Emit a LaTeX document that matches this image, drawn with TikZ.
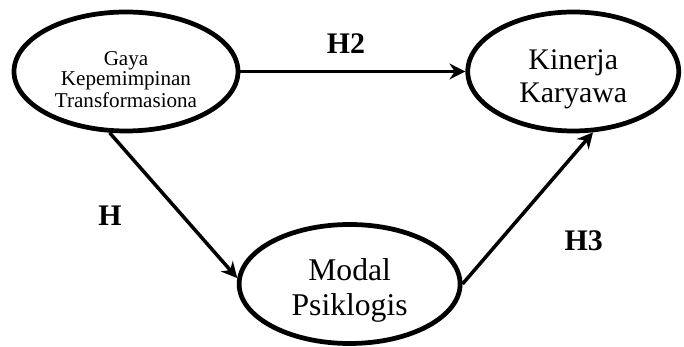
\documentclass[tikz,border=0pt]{standalone}
\usepackage{fontspec}
\setmainfont{Liberation Serif}
\usetikzlibrary{arrows.meta,positioning,shapes.geometric,calc}

\begin{document}
\begin{tikzpicture}[
    var/.style={
        ellipse,
        draw=black,
        line width=2.7pt,
        minimum width=#1,
        minimum height=2.38cm,
        inner sep=0pt,
        align=center,
        font=\fontsize{17}{19}\selectfont
    },
    arrow/.style={
        -{Stealth[length=9pt,width=9pt]},
        line width=2pt
    },
    hyp/.style={
        font=\bfseries\fontsize{17}{19}\selectfont,
        inner sep=0pt
    }
]

\useasboundingbox (-2.52,1.43) rectangle (11.16,-5.51);

% Independent variable
\node[var=4.48cm, font=\fontsize{12}{10}\selectfont] (gaya) at (0,0) {
    \rule{0pt}{17pt}Gaya\\Kepemimpinan\\Transformasiona
};

% Dependent variable
\node[var=4.22cm, right=4.5cm of gaya] (kinerja) {
    \rule{0pt}{20pt}Kinerja\\Karyawa
};

% Mediator
\node[var=4.42cm, font=\fontsize{18}{20}\selectfont] (modal)
    at ($(gaya)!0.5!(kinerja)+(0,-4.25)$) {
    \rule{0pt}{20pt}Modal\\Psiklogis
};

% Direct path (top)
\draw[arrow] (gaya) -- (kinerja)
    node[midway, above=0.33cm, xshift=-4pt, hyp] {H2};

% Path through the mediator
\draw[arrow] (gaya.255) -- (modal.177)
    node[midway, left=1cm, yshift=-6pt, hyp] {H};
\draw[arrow] (modal.east) -- (kinerja.288)
    node[midway, below right=0.42cm and 0.7cm, hyp] {H3};

\end{tikzpicture}
\end{document}
